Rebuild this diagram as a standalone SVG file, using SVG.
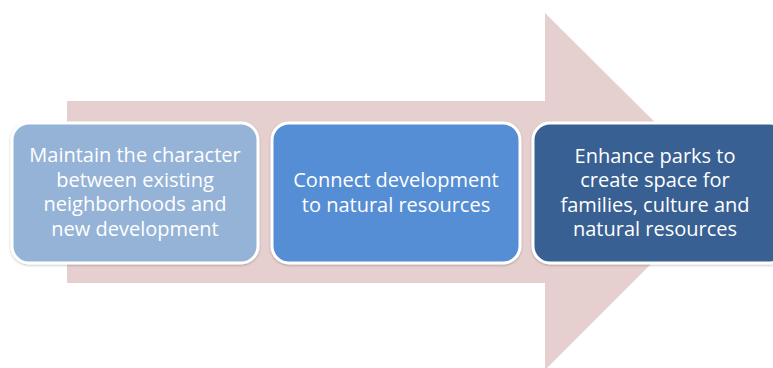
<svg xmlns="http://www.w3.org/2000/svg" width="773" height="368" viewBox="0 0 773 368">
<defs>
<style>
.box{stroke:#ffffff;stroke-width:3}
.lbl{font-family:"Open Sans","Noto Sans","Liberation Sans",sans-serif;font-size:20px;fill:#ffffff;text-anchor:middle}
</style>
<filter id="sh" x="-10%" y="-10%" width="120%" height="120%">
<feDropShadow dx="0" dy="1" stdDeviation="1.2" flood-color="#000000" flood-opacity="0.25"/>
</filter>
</defs>
<rect width="773" height="368" fill="#ffffff"/>
<g id="connectors">
<polygon points="67,101 545,101 545,13 724,191 545,370 545,283 67,283" fill="#E6CFCF"/>
</g>
<g id="node1">
<rect class="box" x="12" y="123" width="246" height="140" rx="17" fill="#95B3D7" filter="url(#sh)"/>
<text class="lbl" x="135" y="162">Maintain the character</text>
<text class="lbl" x="135" y="186.5">between existing</text>
<text class="lbl" x="135" y="211">neighborhoods and</text>
<text class="lbl" x="135" y="235.5">new development</text>
</g>
<g id="node2">
<rect class="box" x="272" y="123" width="248" height="140" rx="17" fill="#558ED5" filter="url(#sh)"/>
<text class="lbl" x="396" y="187">Connect development</text>
<text class="lbl" x="396" y="212">to natural resources</text>
</g>
<g id="node3">
<rect class="box" x="533" y="123" width="254" height="140" rx="17" fill="#376092" filter="url(#sh)"/>
<text class="lbl" x="655" y="162.5">Enhance parks to</text>
<text class="lbl" x="655" y="187">create space for</text>
<text class="lbl" x="655" y="211.5">families, culture and</text>
<text class="lbl" x="655" y="236">natural resources</text>
</g>
</svg>
